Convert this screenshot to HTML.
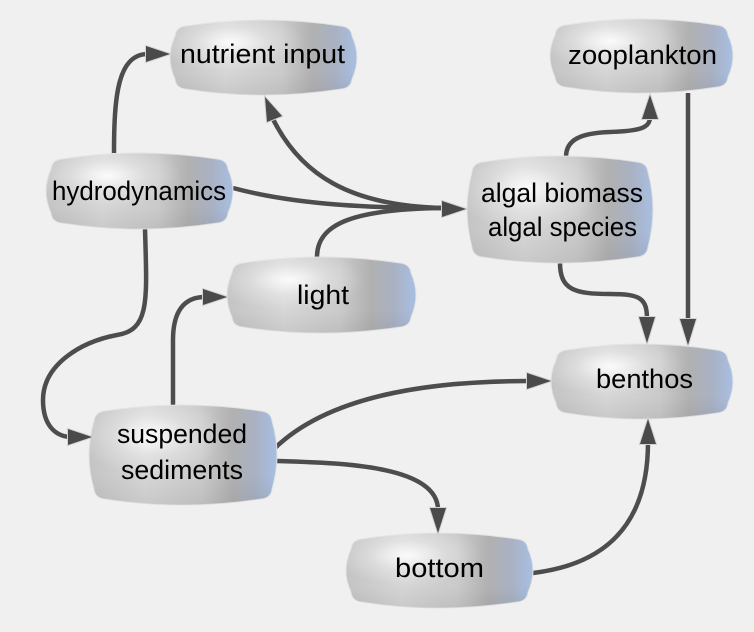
<!DOCTYPE html>
<html><head><meta charset="utf-8"><style>
html,body{margin:0;padding:0;background:#f0f0f0;}
svg{display:block;}
text{font-family:"Liberation Sans",Arial,sans-serif;font-size:27px;fill:#000;}
</style></head><body>
<svg width="754" height="632" viewBox="0 0 754 632" xmlns="http://www.w3.org/2000/svg">
<defs>
<linearGradient id="lg" x1="0" y1="0" x2="1" y2="0">
<stop offset="0" stop-color="#c4c4c4"/>
<stop offset="0.3" stop-color="#d6d6d6"/>
<stop offset="0.6" stop-color="#cacaca"/>
<stop offset="0.76" stop-color="#b1b1b1"/>
<stop offset="0.88" stop-color="#a9b1c2"/>
<stop offset="1" stop-color="#a8bfe3"/>
</linearGradient>
<radialGradient id="rg" cx="0.33" cy="0.3" r="0.4">
<stop offset="0" stop-color="#ffffff" stop-opacity="0.9"/>
<stop offset="0.5" stop-color="#ffffff" stop-opacity="0.3"/>
<stop offset="1" stop-color="#ffffff" stop-opacity="0"/>
</radialGradient>
<linearGradient id="vg" x1="0" y1="0" x2="0" y2="1">
<stop offset="0" stop-color="#000" stop-opacity="0"/>
<stop offset="0.7" stop-color="#000" stop-opacity="0"/>
<stop offset="1" stop-color="#000" stop-opacity="0.06"/>
</linearGradient>
</defs>
<rect width="754" height="632" fill="#f0f0f0"/>

<g fill="none" stroke="#4d4d4d" stroke-width="4.5">
<path d="M114 153 C114 95 118 54 148 54"/>
<path d="M444 208 C350 206 300 175 272 117"/>
<path d="M233 188 C300 206 380 208 444 208"/>
<path d="M317 257 C317 225 350 209 444 208"/>
<path d="M145 229 C147 300 150 330 117 335 C80 342 43 365 43 400 C43 425 55 436 70 437"/>
<path d="M173 405 L173 340 C173 310 185 297 205 297"/>
<path d="M566 157 C566 140 580 133 610 132 C640 131 650 128 650 117"/>
<path d="M688 93 L688 320"/>
<path d="M560 263 C560 290 575 294 610 294 C640 294 647 298 647 319"/>
<path d="M275 448 C330 395 430 381 529 381"/>
<path d="M277 461 C340 463 438 465 438 510"/>
<path d="M533 573 C600 565 648 530 648 442"/>
</g>

<g fill="url(#lg)" stroke="#e2e2e2" stroke-width="1">
<path id="nA" d="M186,26 Q263.5,14 341,26 Q351,27 352,36 Q362,57.5 352,79 Q351,88 341,89 Q263.5,101 186,89 Q176,88 175,79 Q165,57.5 175,36 Q176,27 186,26 Z"/>
<path id="nB" d="M566,25 Q641.5,13 717,25 Q727,26 728,35 Q738,56 728,77 Q727,86 717,87 Q641.5,99 566,87 Q556,86 555,77 Q545,56 555,35 Q556,26 566,25 Z"/>
<path id="nC" d="M62,159 Q139.5,147 217,159 Q227,160 228,169 Q238,191 228,213 Q227,222 217,223 Q139.5,235 62,223 Q52,222 51,213 Q41,191 51,169 Q52,160 62,159 Z"/>
<path id="nD" d="M483,162 Q560,150 637,162 Q647,163 648,172 Q658,209.5 648,247 Q647,256 637,257 Q560,269 483,257 Q473,256 472,247 Q462,209.5 472,172 Q473,163 483,162 Z"/>
<path id="nE" d="M243,263 Q321.5,251 400,263 Q410,264 411,273 Q421,295 411,317 Q410,326 400,327 Q321.5,339 243,327 Q233,326 232,317 Q222,295 232,273 Q233,264 243,263 Z"/>
<path id="nF" d="M567,350 Q642,338 717,350 Q727,351 728,360 Q738,381.5 728,403 Q727,412 717,413 Q642,425 567,413 Q557,412 556,403 Q546,381.5 556,360 Q557,351 567,350 Z"/>
<path id="nG" d="M105,411 Q183,399 261,411 Q271,412 272,421 Q282,455 272,489 Q271,498 261,499 Q183,511 105,499 Q95,498 94,489 Q84,455 94,421 Q95,412 105,411 Z"/>
<path id="nH" d="M362,539 Q439.5,527 517,539 Q527,540 528,549 Q538,570.5 528,592 Q527,601 517,602 Q439.5,614 362,602 Q352,601 351,592 Q341,570.5 351,549 Q352,540 362,539 Z"/>
</g>
<g fill="url(#rg)">
<use href="#nA"/><use href="#nB"/><use href="#nC"/><use href="#nD"/>
<use href="#nE"/><use href="#nF"/><use href="#nG"/><use href="#nH"/>
</g>
<g fill="url(#vg)">
<use href="#nA"/><use href="#nB"/><use href="#nC"/><use href="#nD"/>
<use href="#nE"/><use href="#nF"/><use href="#nG"/><use href="#nH"/>
</g>

<g fill="#4a4a4a" stroke="#d2d2d2" stroke-width="2" paint-order="stroke">
<polygon points="170,54 146,46 146,62"/>
<polygon points="265,97 282,116 267,122"/>
<polygon points="466,209 442,201 442,217"/>
<polygon points="227,297 203,289 203,305"/>
<polygon points="92,437 68,429 68,445"/>
<polygon points="650,95 642,119 658,119"/>
<polygon points="688,345 680,319 696,319"/>
<polygon points="647,343 639,317 655,317"/>
<polygon points="551,381 527,373 527,389"/>
<polygon points="438,533 430,508 446,508"/>
<polygon points="648,419 640,444 656,444"/>
</g>

<text x="180" y="63" textLength="165" lengthAdjust="spacingAndGlyphs">nutrient input</text>
<text x="568" y="64" textLength="149" lengthAdjust="spacingAndGlyphs">zooplankton</text>
<text x="52" y="200" textLength="174" lengthAdjust="spacingAndGlyphs">hydrodynamics</text>
<text x="481" y="202" textLength="162" lengthAdjust="spacingAndGlyphs">algal biomass</text>
<text x="488" y="236" textLength="149" lengthAdjust="spacingAndGlyphs">algal species</text>
<text x="297" y="304" textLength="52" lengthAdjust="spacingAndGlyphs">light</text>
<text x="596" y="388" textLength="97" lengthAdjust="spacingAndGlyphs">benthos</text>
<text x="117" y="443" textLength="130" lengthAdjust="spacingAndGlyphs">suspended</text>
<text x="121" y="479" textLength="122" lengthAdjust="spacingAndGlyphs">sediments</text>
<text x="395" y="577" textLength="89" lengthAdjust="spacingAndGlyphs">bottom</text>
</svg>
</body></html>
